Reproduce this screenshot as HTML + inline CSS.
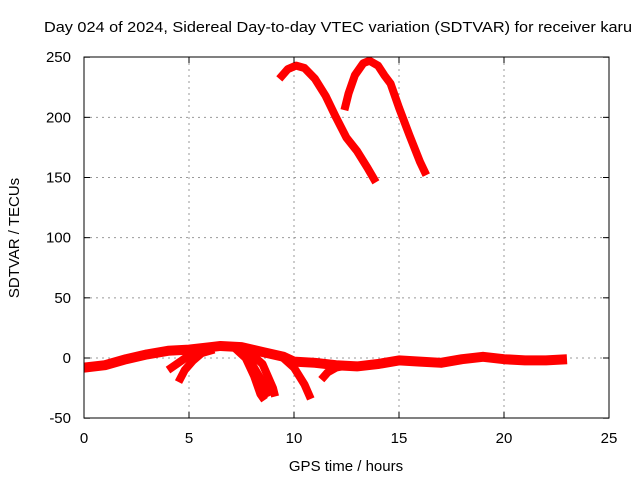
<!DOCTYPE html>
<html><head><meta charset="utf-8"><style>
body{margin:0;background:#fff;}
svg{display:block;font-family:"Liberation Sans",sans-serif;}
</style></head><body>
<svg id="chart" width="640" height="480" viewBox="0 0 640 480" xmlns="http://www.w3.org/2000/svg">
<text x="44" y="32" font-size="15" textLength="588" lengthAdjust="spacingAndGlyphs">Day 024 of 2024, Sidereal Day-to-day VTEC variation (SDTVAR) for receiver karu</text>
<g id="grid"></g>
<g id="series"></g>
<rect x="84" y="57" width="525" height="361" fill="none" stroke="#000" stroke-width="1"/>
<g id="ticks"></g>
<text x="346" y="471" font-size="15" text-anchor="middle">GPS time / hours</text>
<text x="19" y="238" font-size="15" text-anchor="middle" transform="rotate(-90 19 238)">SDTVAR / TECUs</text>
</svg>
<script>
const xTicks=[0,5,10,15,20,25];
const yTicks=[-50,0,50,100,150,200,250];
const seriesX=[
 [9.3,9.7,10.1,10.5,11,11.5,12,12.5,13,13.5,13.9],
 [12.4,12.6,12.9,13.3,13.6,14,14.3,14.6,15,15.5,16,16.3],
 [0,1,2,3,4,5,6,6.5,7.5,8.5,9.5,10,11,12,13,14,15,16,17,18,19,20,21,22,23],
 [7.2,7.7,8.1,8.4,8.6],
 [7.5,8,8.5,8.8],
 [7.8,8.5,9,9.1],
 [9.3,10,10.5,10.8],
 [4,4.5,5,5.5],
 [4.5,4.8,5.2,5.6,6.2],
 [11.3,11.6,12,12.6]
];
const seriesY=[
 [232,240,243,241,232,218,200,183,172,158,146],
 [206,220,235,245,247,243,235,228,208,185,163,152],
 [-8,-6,-1,3,6,7,9,10,9,5,1,-3,-4,-6,-7,-5,-2,-3,-4,-1,1,-1,-2,-2,-1],
 [8,0,-15,-30,-35],
 [8,-5,-20,-32],
 [6,-5,-25,-32],
 [3,-8,-22,-34],
 [-10,-4,2,5],
 [-20,-10,-2,4,7],
 [-18,-12,-8,-6]
];
const X=v=>84+v*21, Y=v=>358-v*1.2033;
const ns="http://www.w3.org/2000/svg";
const g=document.getElementById('grid'),t=document.getElementById('ticks'),s=document.getElementById('series');
function mk(tag,a,p){const e=document.createElementNS(ns,tag);for(const k in a)e.setAttribute(k,a[k]);p.appendChild(e);return e;}
xTicks.forEach(v=>{
 if(v>0&&v<25){const l=mk('line',{x1:X(v),x2:X(v),y1:57,y2:418,stroke:'#999','stroke-dasharray':'2,4'},g);
 
 }
 mk('line',{x1:X(v),x2:X(v),y1:418,y2:412,stroke:'#000'},t);
 mk('line',{x1:X(v),x2:X(v),y1:57,y2:63,stroke:'#000'},t);
 const tx=mk('text',{x:X(v),y:443,'font-size':15,'text-anchor':'middle'},t);
 
 
 tx.textContent=v;
});
yTicks.forEach(v=>{
 if(v>-50&&v<250){const l=mk('line',{x1:84,x2:609,y1:Y(v),y2:Y(v),stroke:'#999','stroke-dasharray':'2,4'},g);
 
 }
 mk('line',{x1:84,x2:90,y1:Y(v),y2:Y(v),stroke:'#000'},t);
 mk('line',{x1:609,x2:603,y1:Y(v),y2:Y(v),stroke:'#000'},t);
 const tx=mk('text',{x:71,y:Y(v)+5,'font-size':15,'text-anchor':'end'},t);
 
 
 tx.textContent=v;
});
seriesX.forEach((xs,i)=>{
 const pts=xs.map((x,j)=>X(x)+','+Y(seriesY[i][j])).join(' ');
 const p=mk('polyline',{points:pts,fill:'none',stroke:'#f00','stroke-width':i===2?10:8,'stroke-linejoin':'round','stroke-linecap':'butt'},s);
 
 
});
</script>
</body></html>
